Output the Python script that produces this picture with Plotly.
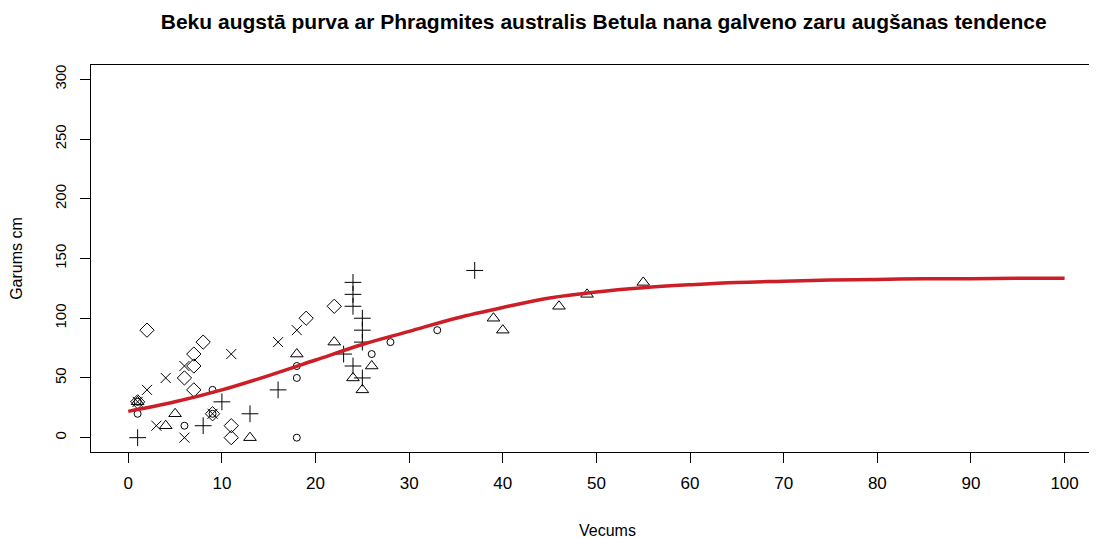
import plotly.graph_objects as go

# punkti pa simboliem (R pch 1..5)
aplis_x = [1, 1, 6, 9, 9, 18, 18, 18, 26, 28, 33]
aplis_y = [30, 20, 10, 40, 20, 60, 50, 0, 70, 80, 90]

trijst_x = [1, 5, 4, 13, 18, 22, 24, 25, 26, 39, 40, 46, 49, 55]
trijst_y = [30, 20, 10, 0, 70, 80, 50, 40, 60, 100, 90, 110, 120, 130]

plus_x = [1, 8, 10, 13, 16, 23, 24, 24, 24, 24, 25, 25, 25, 25, 37]
plus_y = [0, 10, 30, 20, 40, 70, 60, 110, 120, 130, 100, 90, 80, 50, 140]

krust_x = [1, 2, 3, 4, 6, 6, 11, 16, 18, 9]
krust_y = [30, 40, 10, 50, 60, 0, 70, 80, 90, 20]

romb_x = [1, 2, 6, 7, 7, 7, 8, 9, 11, 11, 19, 22]
romb_y = [30, 90, 50, 40, 60, 70, 80, 20, 10, 0, 100, 110]

# tendences līkne
likne_x = [0, 5, 10, 15, 20, 25, 30, 35, 40, 45, 50, 55, 60, 65, 70, 75, 80, 85, 90, 95, 100]
likne_y = [22, 30, 40, 52, 65, 78, 89, 100, 109, 117, 122, 125.5, 128, 130, 131, 132, 132.5, 133, 133, 133.5, 133.5]

x_ticks = list(range(0, 101, 10))
y_ticks = list(range(0, 301, 50))

fig = go.Figure()

def punkti(x, y, simb, izm):
    fig.add_trace(go.Scatter(
        x=x, y=y, mode='markers',
        marker=dict(symbol=simb, size=izm, color='black',
                    line=dict(color='black', width=1)),
        showlegend=False,
    ))

punkti(aplis_x, aplis_y, 'circle-open', 7)
punkti(trijst_x, trijst_y, 'triangle-up-open', 11)
punkti(plus_x, plus_y, 'cross-thin-open', 12)
punkti(krust_x, krust_y, 'x-thin-open', 10)
punkti(romb_x, romb_y, 'diamond-open', 11)

fig.add_trace(go.Scatter(
    x=likne_x, y=likne_y, mode='lines',
    line=dict(color='rgb(204,30,38)', width=3.5, shape='spline'),
    showlegend=False,
))

fig.update_layout(
    width=1089, height=530,
    margin=dict(l=83, r=0, t=57, b=86),
    plot_bgcolor='white', paper_bgcolor='white',
    font=dict(family='Liberation Sans, Arial, sans-serif', color='black'),
    title=dict(
        text='<b>Beku augstā purva ar Phragmites australis Betula nana galveno zaru augšanas tendence</b>',
        x=0.547, xanchor='center', y=0.974, yanchor='middle',
        font=dict(size=21, color='black'),
    ),
    xaxis=dict(
        range=[-3.98, 103.46], tickvals=x_ticks, ticks='outside', ticklen=10,
        tickcolor='black', showline=True, mirror=True, linecolor='black', linewidth=1,
        showgrid=False, zeroline=False, automargin=False, ticklabelstandoff=6,
        tickfont=dict(size=17),
    ),
    yaxis=dict(
        range=[-12, 312], tickvals=y_ticks, ticks='outside', ticklen=10,
        tickcolor='black', showline=True, mirror=False, linecolor='black', linewidth=1,
        showgrid=False, zeroline=False, tickangle=-90, automargin=False, ticklabelstandoff=8,
        tickfont=dict(size=15),
        title=dict(text='Garums cm', font=dict(size=16), standoff=32),
    ),
    annotations=[dict(
        text='Vecums', xref='paper', yref='paper', x=0.513, y=0, yshift=-78,
        xanchor='center', yanchor='middle', showarrow=False, font=dict(size=16),
    )],
)

fig.write_html("out.html")
